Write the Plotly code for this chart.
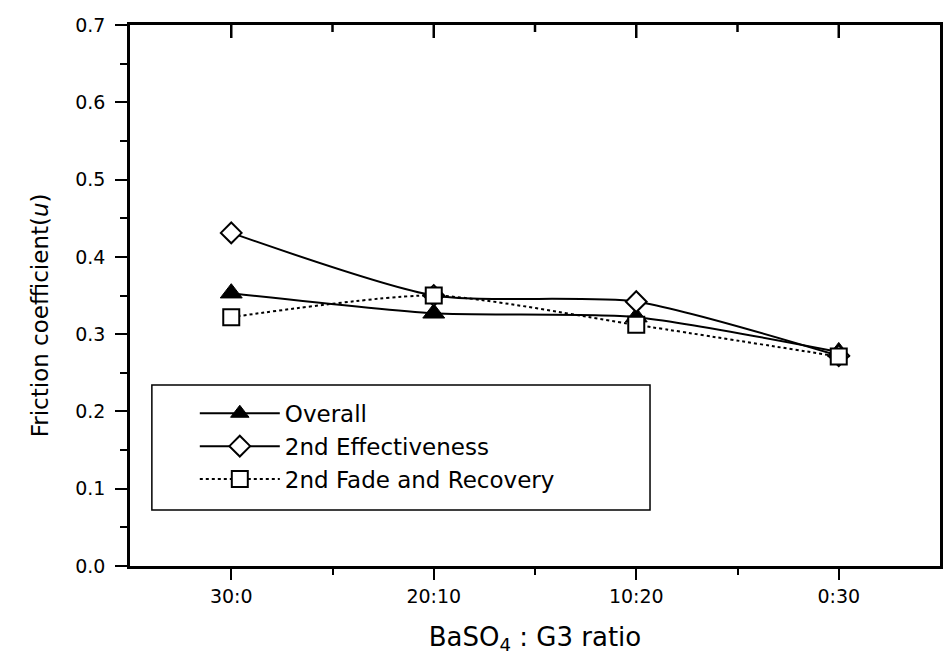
import plotly.graph_objects as go

categories = ["30:0", "20:10", "10:20", "0:30"]
overall = [0.353, 0.327, 0.322, 0.277]
effectiveness = [0.431, 0.350, 0.342, 0.272]
fade_recovery = [0.322, 0.350, 0.312, 0.271]
y_ticks = [0.0, 0.1, 0.2, 0.3, 0.4, 0.5, 0.6, 0.7]

xpos = list(range(1, len(categories) + 1))
x_minor = [(a + b) / 2 for a, b in zip(xpos[:-1], xpos[1:])]
FONT = "DejaVu Sans"
SMOOTH = 0.65
PLOT_H = 655 - 25 - 89

fig = go.Figure()
fig.add_trace(go.Scatter(
    x=xpos, y=overall, name="Overall", mode="lines+markers",
    line=dict(color="black", width=2, shape="spline", smoothing=SMOOTH),
    marker=dict(symbol="triangle-up", size=19, color="black",
                line=dict(color="black", width=1))))
fig.add_trace(go.Scatter(
    x=xpos, y=effectiveness, name="2nd Effectiveness", mode="lines+markers",
    line=dict(color="black", width=2, shape="spline", smoothing=SMOOTH),
    marker=dict(symbol="diamond", size=16, color="white",
                line=dict(color="black", width=2))))
fig.add_trace(go.Scatter(
    x=xpos, y=fade_recovery, name="2nd Fade and Recovery", mode="lines+markers",
    line=dict(color="black", width=2, dash="dot", shape="spline", smoothing=SMOOTH),
    marker=dict(symbol="square", size=16, color="white",
                line=dict(color="black", width=2))))

axis_common = dict(showgrid=False, zeroline=False, linecolor="black",
                   linewidth=2.5, tickcolor="black", tickwidth=2)

# inward ticks along the top frame (mirror of the category axis)
top_ticks = []
for v, ln in [(v, 13) for v in xpos] + [(v, 7) for v in x_minor]:
    top_ticks.append(dict(type="line", xref="x", yref="y", x0=v, x1=v,
                          y0=0.7, y1=0.7 - ln / PLOT_H * 0.7,
                          line=dict(color="black", width=2.5), layer="above"))

legend_box = dict(type="rect", xref="paper", yref="paper",
                  x0=0.027, x1=0.642, y0=0.1035, y1=0.3346,
                  line=dict(color="black", width=1.5), fillcolor="rgba(0,0,0,0)",
                  layer="below")

fig.update_layout(
    width=945, height=655,
    margin=dict(l=130, r=2, t=25, b=89),
    paper_bgcolor="white", plot_bgcolor="white",
    font=dict(family=FONT, color="black", size=19),
    xaxis=dict(
        **axis_common, range=[0.5, 4.5], tickmode="array",
        tickvals=xpos, ticktext=categories, ticks="outside", ticklen=11,
        showline=True, mirror=True, ticklabelstandoff=0,
        minor=dict(tickmode="array", tickvals=x_minor, ticks="outside",
                   ticklen=6, tickcolor="black", tickwidth=2),
        title=dict(text="BaSO<sub>4</sub> : G3 ratio", font=dict(size=26), standoff=28),
    ),
    yaxis=dict(
        **axis_common, range=[0, 0.7], tickmode="array", tickvals=y_ticks,
        tickformat=".1f", ticks="outside", ticklen=12, showline=True, mirror=True,
        ticklabelstandoff=6,
        minor=dict(dtick=0.05, ticks="outside", ticklen=7, tickcolor="black", tickwidth=2),
    ),
    showlegend=True,
    legend=dict(
        x=0.080, y=0.322, xanchor="left", yanchor="top",
        bgcolor="rgba(0,0,0,0)", borderwidth=0,
        font=dict(family=FONT, size=23), itemwidth=80, tracegroupgap=0,
    ),
    annotations=[dict(
        text="Friction coefficient(<i>u</i>)", textangle=-90,
        xref="paper", yref="paper", x=-0.1107, y=0.464,
        xanchor="center", yanchor="middle", showarrow=False,
        font=dict(family=FONT, size=23, color="black"))],
    shapes=[legend_box] + top_ticks,
)

fig.write_html("out.html")
